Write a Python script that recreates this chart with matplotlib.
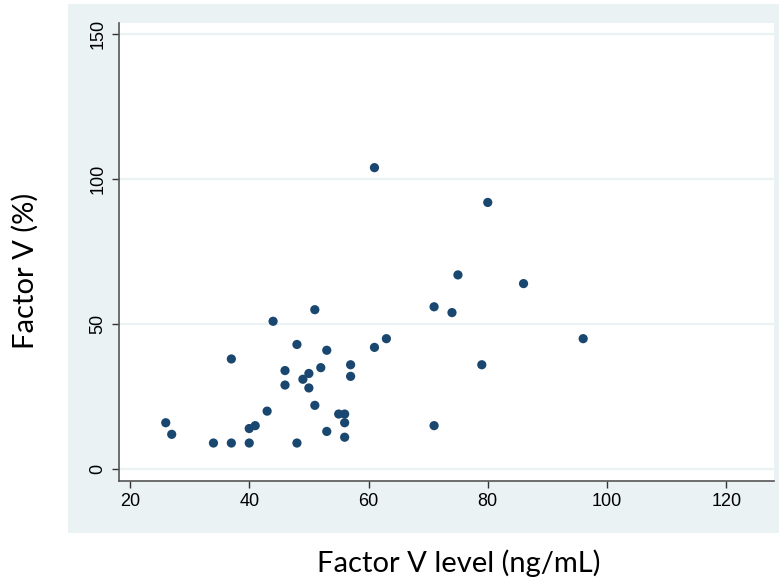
import matplotlib
matplotlib.use("Agg")
import matplotlib.pyplot as plt
from matplotlib.patches import Rectangle

# Data
factor_v_level = [61, 80, 75, 86, 71, 74, 96, 79, 71, 63, 61,
                  26, 27, 34, 37, 40, 40, 41, 43, 37, 44, 51, 48, 46, 46, 48,
                  49, 50, 50, 52, 53, 51, 53, 55, 56, 56, 56, 57, 57]
factor_v_pct = [104, 92, 67, 64, 56, 54, 45, 36, 15, 45, 42,
                16, 12, 9, 9, 9, 14, 15, 20, 38, 51, 55, 43, 34, 29, 9,
                31, 33, 28, 35, 41, 22, 13, 19, 19, 16, 11, 36, 32]
x_ticks = [20, 40, 60, 80, 100, 120]
y_ticks = [0, 50, 100, 150]

W, H = 779, 581
fig = plt.figure(figsize=(W / 100, H / 100), dpi=100)
fig.patch.set_facecolor("white")

panel_color = "#EAF2F3"
bg = fig.add_axes([68 / W, 1 - 533 / H, 1 - 68 / W, (533 - 4) / H], zorder=-5)
bg.set_facecolor(panel_color)
bg.set_xticks([])
bg.set_yticks([])
for s in bg.spines.values():
    s.set_visible(False)

ax = fig.add_axes([119 / W, 1 - 481 / H, (774 - 119) / W, (481 - 23) / H], zorder=1)
ax.set_facecolor("white")
ax.set_xlim(18.16, 128.0)
ax.set_ylim(-4.1, 153.9)

for yv in y_ticks:
    ax.axhline(yv, color=panel_color, lw=1.6, zorder=1)

ax.scatter(factor_v_level, factor_v_pct, s=44, color="#1A476F", edgecolors="none", zorder=3)

ax.set_xticks(x_ticks)
ax.set_yticks(y_ticks)
ax.set_xticklabels([str(v) for v in x_ticks], fontfamily="Liberation Sans", fontsize=13)
ax.set_yticklabels([str(v) for v in y_ticks], fontfamily="Liberation Sans", fontsize=13,
                   rotation=90, va="center")
ax.tick_params(axis="both", direction="out", length=5, width=1, color="#333333", pad=4)

for side in ["top", "right"]:
    ax.spines[side].set_visible(False)
for side in ["left", "bottom"]:
    ax.spines[side].set_color("#555555")
    ax.spines[side].set_linewidth(1.2)

fig.text(459 / W, 1 - 563 / H, "Factor V level (ng/mL)", ha="center", va="center",
         fontfamily="Lato", fontsize=21)
fig.text(25 / W, 1 - 271 / H, "Factor V (%)", ha="center", va="center", rotation=90,
         fontfamily="Lato", fontsize=21)

fig.savefig("out.png", dpi=100, facecolor="white")
